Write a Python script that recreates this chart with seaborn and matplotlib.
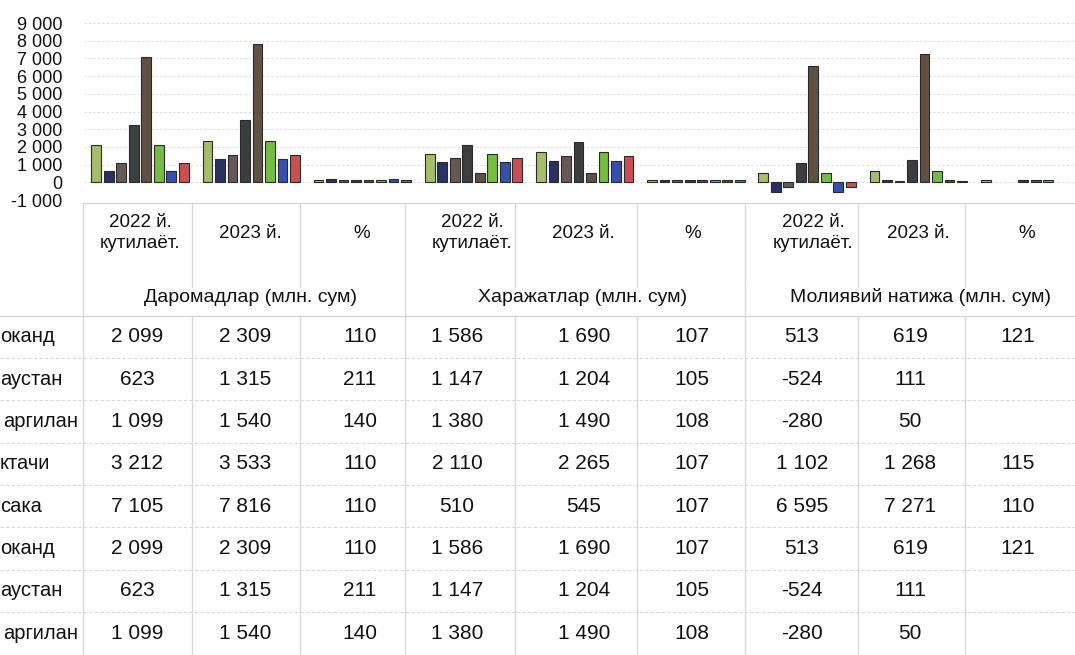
import numpy as np
import pandas as pd
import seaborn as sns
import matplotlib.pyplot as plt

sns.set_theme(style='white')
plt.rcParams['font.family'] = ['Liberation Sans', 'DejaVu Sans']

# данные таблицы (строки обрезаны слева, как на скане)
rows = ['оканд', 'аустан', 'аргилан', 'ктачи', 'сака', 'оканд', 'аустан', 'аргилан']
col_names = ['2022 й.\nкутилаёт.', '2023 й.', '%'] * 3
groups = ['Даромадлар (млн. сум)', 'Харажатлар (млн. сум)', 'Молиявий натижа (млн. сум)']

income_2022 = [2099, 623, 1099, 3212, 7105, 2099, 623, 1099]
income_2023 = [2309, 1315, 1540, 3533, 7816, 2309, 1315, 1540]
income_pct = [110, 211, 140, 110, 110, 110, 211, 140]
expense_2022 = [1586, 1147, 1380, 2110, 510, 1586, 1147, 1380]
expense_2023 = [1690, 1204, 1490, 2265, 545, 1690, 1204, 1490]
expense_pct = [107, 105, 108, 107, 107, 107, 105, 108]
result_2022 = [513, -524, -280, 1102, 6595, 513, -524, -280]
result_2023 = [619, 111, 50, 1268, 7271, 619, 111, 50]
result_pct = [121, None, None, 115, 110, 121, None, None]

y_ticks = list(range(-1000, 9001, 1000))

colors = ['#a9cc5c', '#1d2b6c', '#6b5755', '#3d3d42', '#62533f',
          '#72d22c', '#2146c4', '#e0393d']

table = [income_2022, income_2023, income_pct,
         expense_2022, expense_2023, expense_pct,
         result_2022, result_2023, result_pct]

records = []
for ci, col in enumerate(table):
    for ri, v in enumerate(col):
        records.append({'col': ci, 'row': 'r%d' % ri, 'value': v})
df = pd.DataFrame(records).dropna()
hue_order = ['r%d' % i for i in range(len(rows))]


def fmt(v):
    if v is None:
        return ''
    return '{:,}'.format(v).replace(',', ' ')


W, H = 1075, 655
fig = plt.figure(figsize=(W / 100, H / 100), dpi=100)

# оверлей-оси в пикселях для таблицы
tax = fig.add_axes([0, 0, 1, 1], zorder=0)
tax.set_xlim(0, W)
tax.set_ylim(H, 0)
tax.axis('off')

# график
x0, x1 = 84.4, 1085.0
y_top, y_bot = 23, 200
ax = fig.add_axes([x0 / W, 1 - y_bot / H, (x1 - x0) / W, (y_bot - y_top) / H], zorder=1)
ax.patch.set_alpha(0)
sns.barplot(data=df, x='col', y='value', hue='row', hue_order=hue_order,
            order=list(range(9)), palette=colors, width=0.9, gap=0.22,
            edgecolor='#2a2a2a', linewidth=0.8, errorbar=None, legend=False, ax=ax)
ax.set_xlim(-0.5, 8.5)
ax.set_ylim(-1000, 9000)
ax.set_yticks(y_ticks)
ax.set_yticklabels([fmt(t) for t in y_ticks], fontsize=13, color='#111111')
ax.set_xticks([])
ax.set_xlabel('')
ax.set_ylabel('')
ax.tick_params(axis='y', length=0, pad=16)
ax.yaxis.grid(True, color='#e6d9d9', linestyle=(0, (2, 2)), linewidth=0.8)
ax.set_axisbelow(True)
for s in ax.spines.values():
    s.set_visible(False)

# таблица
line_c = '#d9d9d9'
bounds = [83, 192, 300, 405, 515, 637, 745, 858, 965]
head_x = [140, 250, 362, 472, 583, 693, 813, 918, 1027]
val_x = [137, 245, 360, 457, 584, 692, 802, 910, 1018]
row_y = [337 + 42.3 * i for i in range(len(rows))]
top, head_bot, grp_bot = 203, 287, 316

tax.plot([bounds[0], W], [top, top], color=line_c, lw=1)
for b in bounds:
    tax.plot([b, b], [top, head_bot], color=line_c, lw=1)
    tax.plot([b, b], [grp_bot, H], color=line_c, lw=1)
for b in bounds[::3]:
    tax.plot([b, b], [head_bot, grp_bot], color=line_c, lw=1)
tax.plot([0, W], [grp_bot, grp_bot], color=line_c, lw=1)
for i in range(len(rows) - 1):
    yl = row_y[i] + 21
    tax.plot([0, W], [yl, yl], color=line_c, lw=0.8, ls=(0, (3, 2)))

for i, name in enumerate(col_names):
    tax.text(head_x[i], 233, name, ha='center', va='center', fontsize=13.5,
             linespacing=1.25, color='#111111')
for g, name in enumerate(groups):
    gx = (head_x[3 * g] + head_x[3 * g + 2]) / 2
    tax.text(gx, 297, name, ha='center', va='center', fontsize=14,
             color='#111111')

for r, name in enumerate(rows):
    tax.text(0 if r != 2 and r != 7 else 3, row_y[r], name, ha='left', va='center',
             fontsize=14.5, color='#111111')
    for c in range(9):
        tax.text(val_x[c], row_y[r], fmt(table[c][r]), ha='center', va='center',
                 fontsize=15, color='#111111')

fig.savefig('out.png', dpi=100)
